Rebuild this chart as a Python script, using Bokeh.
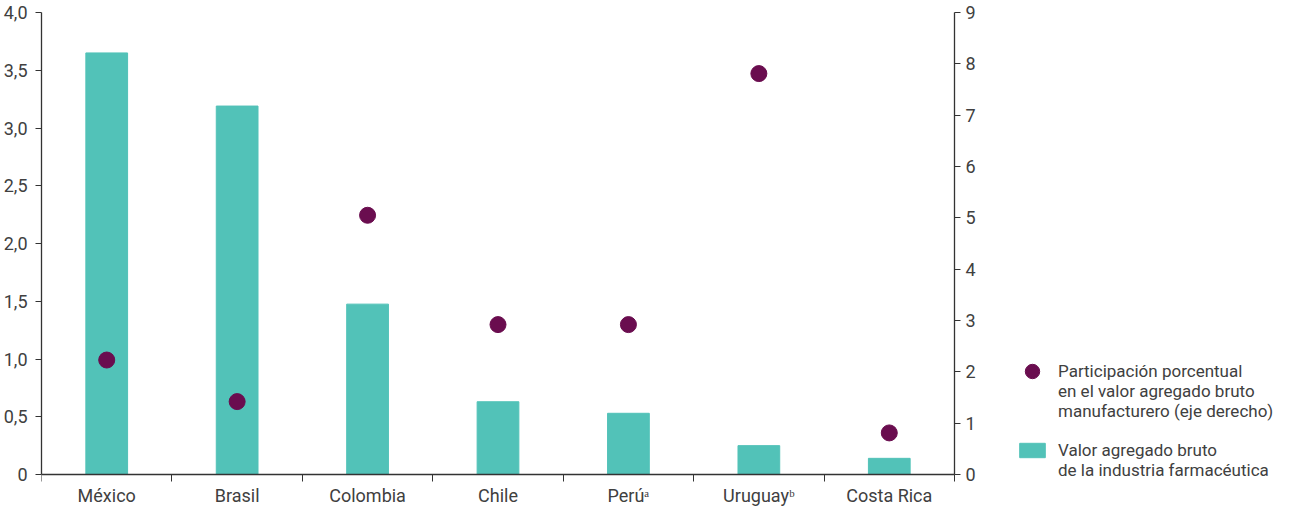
from bokeh.plotting import figure
from bokeh.models import (Range1d, LinearAxis, FixedTicker, ColumnDataSource,
                          Legend, LegendItem)
from bokeh.embed import file_html
from bokeh.resources import INLINE

countries = ["México", "Brasil", "Colombia", "Chile", "Perúᵃ", "Uruguayᵇ", "Costa Rica"]
vab = [3.65, 3.19, 1.475, 0.63, 0.53, 0.25, 0.14]
share = [2.23, 1.42, 5.05, 2.92, 2.92, 7.81, 0.81]
left_ticks = [0, 0.5, 1.0, 1.5, 2.0, 2.5, 3.0, 3.5, 4.0]
left_labels = ["0", "0,5", "1,0", "1,5", "2,0", "2,5", "3,0", "3,5", "4,0"]
right_ticks = [0, 1, 2, 3, 4, 5, 6, 7, 8, 9]
legend_dot_lines = ["Participación porcentual", "en el valor agregado bruto",
                    "manufacturero (eje derecho)"]
legend_bar_lines = ["Valor agregado bruto", "de la industria farmacéutica"]

TEAL = "#52c2b8"
PURPLE = "#6a0d4f"
GRAY = "#404040"
AXIS = "#333333"
FONT = "Roboto"

n = len(countries)
xc = [i + 0.5 for i in range(n)]
src = ColumnDataSource(dict(x=xc, vab=vab, share=share))

# frame geometry (pixels)
FW, FH = 1238, 480
PAD_TOP, PAD_BOT = 10, 8
plot_px = FH - PAD_TOP - PAD_BOT
lmax, rmax = left_ticks[-1], right_ticks[-1]
ul, ur = plot_px / lmax, plot_px / rmax

p = figure(frame_width=FW, frame_height=FH, output_backend="svg",
           toolbar_location=None,
           x_range=Range1d(0, n * FW / 913),
           y_range=Range1d(-PAD_BOT / ul, lmax + PAD_TOP / ul),
           min_border_top=2, min_border_left=0, min_border_bottom=0,
           min_border_right=0)
p.extra_y_ranges = {"r": Range1d(-PAD_BOT / ur, rmax + PAD_TOP / ur)}
p.outline_line_color = None
p.xgrid.visible = False
p.ygrid.visible = False

bars = p.vbar(x="x", top="vab", width=0.32, source=src, color=TEAL)
dots = p.ellipse(x="x", y="share", y_range_name="r", width=16, height=16,
                 width_units="screen", height_units="screen", source=src,
                 color=PURPLE)
blank = p.scatter(x=[], y=[], size=0, alpha=0)

# bottom axis: only the category labels
xa = p.xaxis[0]
xa.ticker = FixedTicker(ticks=xc)
xa.major_label_overrides = {x: c for x, c in zip(xc, countries)}
xa.axis_line_color = None
xa.major_tick_line_color = None
xa.minor_tick_line_color = None
xa.major_tick_out = 0
xa.major_tick_in = 0
xa.minor_tick_out = 0
xa.minor_tick_in = 0

# baseline axis at y = 0 with ticks between categories
xf = LinearAxis(fixed_location=0, bounds=(0, n),
                ticker=FixedTicker(ticks=[], minor_ticks=list(range(n + 1))),
                major_label_text_font_size="0px", major_label_standoff=0,
                major_tick_in=0, major_tick_out=0,
                minor_tick_in=7, minor_tick_out=0,
                axis_line_color=AXIS, axis_line_width=1.3,
                minor_tick_line_color=AXIS)
p.add_layout(xf, "above")

ya = p.yaxis[0]
ya.ticker = FixedTicker(ticks=left_ticks)
ya.major_label_overrides = {t: l for t, l in zip(left_ticks, left_labels)}
ya.bounds = (0, lmax)
ya.major_tick_out = 6
ya.major_tick_in = 0
ya.minor_tick_out = 0
ya.minor_tick_in = 0

# right axis sits right after the last category
ra = LinearAxis(y_range_name="r", ticker=FixedTicker(ticks=right_ticks),
                fixed_location=n, bounds=(0, rmax))
ra.major_tick_out = 6
ra.major_tick_in = 0
ra.minor_tick_out = 0
ra.minor_tick_in = 0
p.add_layout(ra, "right")

for ax in [ya, ra]:
    ax.axis_line_color = AXIS
    ax.axis_line_width = 1.3
    ax.major_tick_line_color = AXIS
for ax in [xa, ya, ra]:
    ax.major_label_text_color = GRAY
    ax.major_label_text_font = FONT
    ax.major_label_text_font_size = "18px"
    ax.major_label_standoff = 5
xa.major_label_standoff = 2
ya.major_label_standoff = 8

items = [LegendItem(label=legend_dot_lines[0], renderers=[dots])]
items += [LegendItem(label=t, renderers=[blank]) for t in legend_dot_lines[1:]]
items += [LegendItem(label=" ", renderers=[blank])]
items += [LegendItem(label=legend_bar_lines[0], renderers=[bars])]
items += [LegendItem(label=t, renderers=[blank]) for t in legend_bar_lines[1:]]

legend = Legend(items=items, location=(975, 2))
legend.label_text_font = FONT
legend.label_text_font_size = "17px"
legend.label_text_color = GRAY
legend.label_height = 19
legend.border_line_color = None
legend.background_fill_alpha = 0
legend.glyph_width = 32
legend.glyph_height = 18
legend.spacing = 0
legend.margin = 0
legend.padding = 0
legend.label_standoff = 10
p.add_layout(legend, "center")

open("out.html", "w").write(file_html(p, INLINE))
